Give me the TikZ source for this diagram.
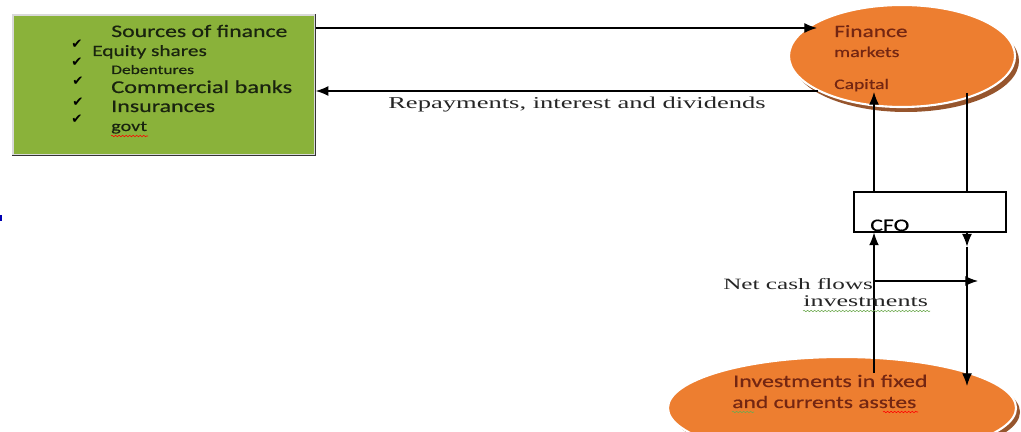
\documentclass[tikz,border=0pt]{standalone}
\usepackage{fontspec}
\setmainfont{Liberation Serif}
\newfontfamily\calib[FakeStretch=1.35,FakeBold=0.5]{Carlito}
\newfontfamily\serifsp[FakeStretch=1.6]{Liberation Serif}
\newfontfamily\symfont{DejaVu Sans}
\usetikzlibrary{shapes.geometric,arrows.meta,calc,decorations.pathmorphing}

\definecolor{srcgreen}{RGB}{138,178,58}
\definecolor{mktorange}{RGB}{237,126,48}
\definecolor{mktshadow}{RGB}{150,85,45}
\definecolor{mkttext}{RGB}{115,38,18}
\definecolor{srctext}{RGB}{25,35,15}
\definecolor{spellgreen}{RGB}{110,170,80}

\tikzset{
  flow/.style={-{Latex[length=9pt,width=7pt]}, thick},
  txt/.style={anchor=base west, inner sep=0pt},
  srcitem/.style={txt, text=srctext, font=\calib\fontsize{#1}{#1}\selectfont},
  mktitem/.style={txt, text=mkttext, font=\calib\fontsize{#1}{#1}\selectfont},
  lbl/.style={txt, text=black!85, font=\serifsp\fontsize{#1}{#1}\selectfont},
  tick/.style={inner sep=0pt, text=black, font=\symfont\fontsize{9.5}{9.5}\selectfont},
  market/.style={ellipse, fill=mktorange, draw=white, line width=1.5pt, inner sep=0pt},
  squiggle/.style={decorate, decoration={snake, amplitude=0.5pt, segment length=2.5pt}, line width=0.4pt}
}

\begin{document}
\begin{tikzpicture}[x=0.025cm, y=-0.025cm]
  \clip (0,0) rectangle (1021,432);

  % sources box
  \node[fill=srcgreen, draw=black!15, line width=1pt, minimum width=7.55cm, minimum height=3.5cm,
        inner sep=0pt] (src) at (164,85) {};
  \draw[black!80, line width=1pt] (src.north east) -- (src.south east) -- (src.south west);

  \node[srcitem=12.5] (srchead) at (111,37) {Sources of finance};
  \node[srcitem=11.2] (equity) at (92,56) {Equity shares};
  \node[srcitem=9.2] (deb) at (111,74) {Debentures};
  \node[srcitem=12.8] (banks) at (111,93) {Commercial banks};
  \node[srcitem=12.6] (insur) at (111,112) {Insurances};
  \node[srcitem=10.6] (govt) at (111,131) {govt};
  \draw[red, squiggle] (111,136) -- (148,136);

  \node[tick] (t1) at (77,44) {✔};
  \node[tick] (t2) at (77,62) {✔};
  \node[tick] (t3) at (78,81) {✔};
  \node[tick] (t4) at (78,102) {✔};
  \node[tick] (t5) at (77,119) {✔};

  % finance markets
  \fill[mktshadow] (906,61) ellipse [x radius=113, y radius=51];
  \node[market, minimum width=5.65cm, minimum height=2.55cm] (fin) at (902,56) {};
  \node[mktitem=12.3] (finhead) at (834,37) {Finance};
  \node[mktitem=10.5] (mkts) at (834,57) {markets};
  \node[mktitem=10.3] (capital) at (834,89) {Capital};

  % investments
  \fill[mktshadow] (846,412) ellipse [x radius=174, y radius=51];
  \node[market, minimum width=8.7cm, minimum height=2.55cm] (inv) at (842,408) {};
  \node[mktitem=12.6] (invhead) at (733,387) {Investments in fixed};
  \node[mktitem=12.4] (invsub) at (732,408) {and currents asstes};
  \draw[spellgreen, squiggle] (732,412) -- (754,412);
  \draw[red, squiggle] (883,412) -- (918,412);

  % CFO
  \node[draw, fill=white, line width=0.8pt, minimum width=3.8cm, minimum height=1cm, inner sep=0pt]
        (cfo) at (930,212) {};
  \node[mktitem=12.5, text=black] (cfotxt) at (870,231) {CFO};

  % connectors
  \coordinate (finin) at (817,28);
  \coordinate (finout) at (818,91);
  \coordinate (capin) at (874,92);
  \coordinate (findown) at (967,93);
  \coordinate (invup) at (874,373);
  \coordinate (invdown) at (967,386);
  \coordinate (netl) at (874,281);
  \coordinate (netr) at (978,281);

  \draw[flow] (src.east |- finin) -- (finin);
  \draw[flow] (finout) -- (src.east |- finout);
  \node[lbl=11.8] (repay) at (388,109) {Repayments, interest and dividends};

  \draw[flow] (invup) -- (invup |- cfo.south);
  \draw[flow] (invup |- cfo.north) -- (capin);
  \draw[thick] (findown) -- (findown |- cfo.north);
  \draw[flow] (findown |- cfo.south) -- ++(0,14);
  \draw[flow] ($(findown |- cfo.south)+(0,14)$) -- (invdown);
  \draw[flow] (netl) -- (netr);

  \node[lbl=11.2] (netcash) at (723,290) {Net cash flows};
  \node[lbl=11.6] (invest) at (803,307) {investments};
  \draw[spellgreen, squiggle] (803,311) -- (930,311);

  % stray mark at left edge
  \fill[blue!70!black] (0,215) rectangle (2,221);
\end{tikzpicture}
\end{document}
